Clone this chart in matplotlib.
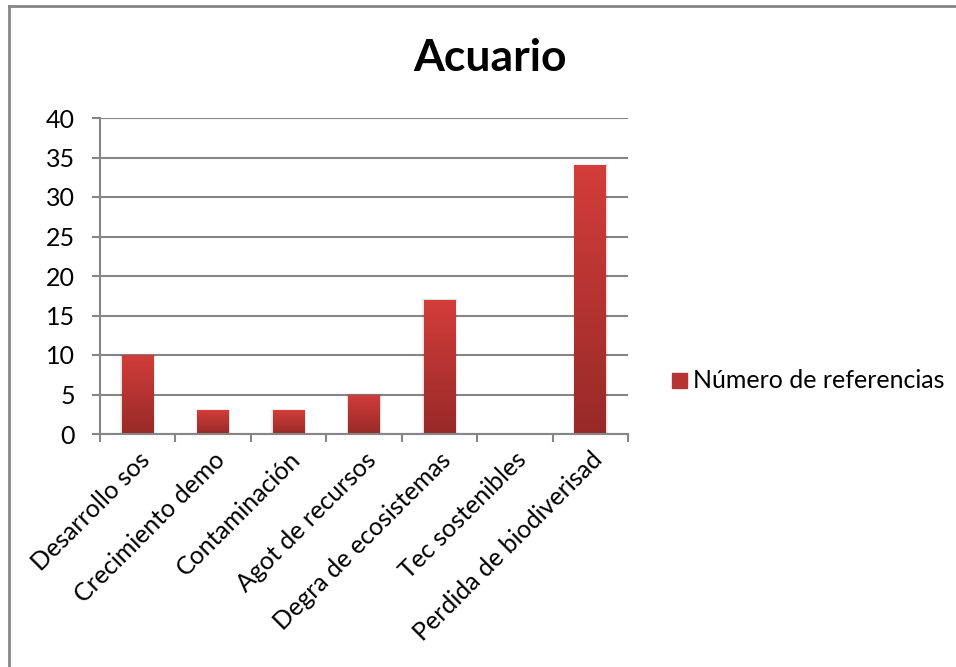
import numpy as np
import matplotlib.pyplot as plt
from matplotlib.colors import LinearSegmentedColormap
from matplotlib.lines import Line2D

plt.rcParams['font.family'] = ['Lato', 'DejaVu Sans']

# Data
categories = ["Desarrollo sos", "Crecimiento demo", "Contaminación",
              "Agot de recursos", "Degra de ecosistemas", "Tec sostenibles",
              "Perdida de biodiverisad"]
referencias = [10, 3, 3, 5, 17, 0, 34]
series_name = "Número de referencias"
title = "Acuario"
yticks = [0, 5, 10, 15, 20, 25, 30, 35, 40]

W, H = 956, 667
fig = plt.figure(figsize=(W / 100, H / 100), dpi=100)
ax = fig.add_axes([100 / W, 1 - 434 / H, 528 / W, 316 / H])

grey = '#868686'
top_col = '#d33d3a'
bot_col = '#972a28'
cmap = LinearSegmentedColormap.from_list('redgrad', [bot_col, top_col])

x = np.arange(len(categories))
bw = 0.42
bars = ax.bar(x, referencias, width=bw, color=top_col, zorder=3)

# vertical gradient inside each bar + soft shadow
grad = np.linspace(0, 1, 256).reshape(-1, 1)
for b in bars:
    h = b.get_height()
    if h <= 0:
        continue
    x0 = b.get_x()
    for k, a in enumerate([0.06, 0.04, 0.02]):
        d = 0.01 * (k + 1)
        ax.add_patch(plt.Rectangle((x0 - d, 0), bw + 2 * d, h + d * 6,
                                   color='#000000', alpha=a, lw=0, zorder=2))
    im = ax.imshow(grad, extent=[x0, x0 + bw, 0, h], origin='lower',
                   aspect='auto', cmap=cmap, zorder=4)
    im.set_clip_path(b)

ax.set_xlim(-0.5, len(categories) - 0.5)
ax.set_ylim(0, 40)
ax.set_yticks(yticks)
ax.yaxis.grid(True, color=grey, lw=1.5, zorder=1)
ax.set_axisbelow(True)

for s in ['top', 'right']:
    ax.spines[s].set_visible(False)
for s in ['left', 'bottom']:
    ax.spines[s].set_color(grey)
    ax.spines[s].set_linewidth(1.5)
    ax.spines[s].set_zorder(5)

ax.tick_params(axis='y', length=6, width=1.5, color=grey, labelsize=18, pad=12)
ax.set_xticks(np.arange(-0.5, len(categories), 1.0))
ax.set_xticklabels([])
ax.tick_params(axis='x', length=6, width=1.5, color=grey)
ax.set_xticks(x, minor=True)
ax.set_xticklabels(categories, minor=True, rotation=45, ha='right',
                   rotation_mode='anchor', fontsize=18)
ax.tick_params(axis='x', which='minor', length=0, pad=10)

fig.text(490 / W, 1 - 58 / H, title, ha='center', va='center',
         fontsize=32, fontweight='bold')

# legend
fig.patches.append(plt.Rectangle((672 / W, 1 - 388 / H), 15 / W, 15 / H,
                                 transform=fig.transFigure, color='#b83432'))
fig.text(693 / W, 1 - 380 / H, series_name, ha='left', va='center',
         fontsize=18)

# chart area border (top and left edges)
fig.add_artist(Line2D([9 / W, 9 / W], [0, 1 - 6 / H], color=grey, lw=2,
                      transform=fig.transFigure))
fig.add_artist(Line2D([9 / W, 1], [1 - 6 / H, 1 - 6 / H], color=grey, lw=2,
                      transform=fig.transFigure))

fig.savefig("out.png", dpi=100)
